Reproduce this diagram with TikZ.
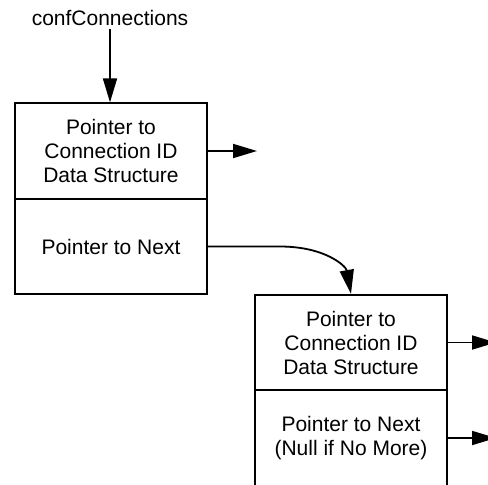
\documentclass[tikz,border=0pt]{standalone}
\usepackage{fontspec}
\setmainfont{Liberation Sans}
\usetikzlibrary{arrows.meta}
\begin{document}
\begin{tikzpicture}[x=1pt,y=-1pt,
  txt/.style={font=\fontsize{21}{24}\selectfont, align=center},
  cell/.style={txt, draw, line width=1.8pt, minimum width=192pt,
    minimum height=95.5pt, inner sep=0pt},
  link/.style={line width=1.8pt, -{Triangle[length=24pt,width=14pt]}}]
  \clip (0,0) rectangle (488,485);

  % head pointer
  \node[txt] (head) at (110,18) {confConnections};

  % first list element
  \node[cell] (b1top) at (111,151) {Pointer to\\Connection ID\\Data Structure};
  \node[cell] (b1bot) at (111,246.5) {Pointer to Next};

  % second list element (runs on past the lower edge)
  \node[cell] (b2top) at (351,342.5) {Pointer to\\Connection ID\\Data Structure};
  \node[cell] (b2bot) at (351,438) {Pointer to Next\\(Null if No More)};

  % free ends of the outgoing pointers
  \coordinate (o1) at (257,151);
  \coordinate (o2) at (496,342.5);
  \coordinate (o3) at (496,438);
  \coordinate (bend) at (280,246.5);

  \draw[link] (head.south -| b1top.north) ++(-1,0) -- (b1top.north -| head.south);
  \draw[link] (b1top.east) -- (o1);
  \draw[link] (b1bot.east) -- (bend) .. controls (325,246.5) and (346,266) .. (b2top.north);
  \draw[link] (b2top.east) -- (o2);
  \draw[link] (b2bot.east) -- (o3);
\end{tikzpicture}
\end{document}
